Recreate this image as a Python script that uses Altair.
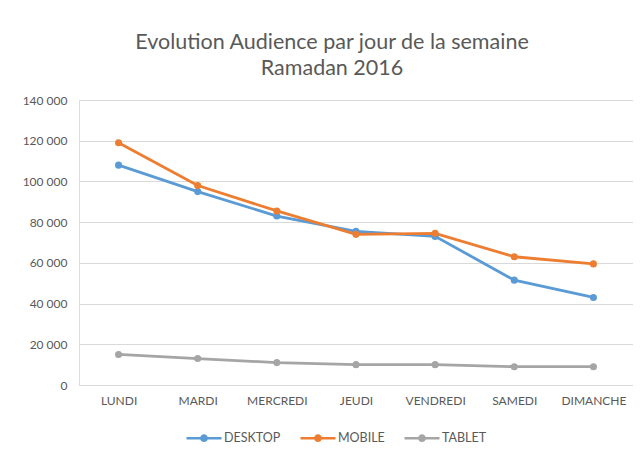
import altair as alt
import pandas as pd

days = ["LUNDI", "MARDI", "MERCREDI", "JEUDI", "VENDREDI", "SAMEDI", "DIMANCHE"]
desktop = [108000, 95000, 83000, 75500, 73000, 51500, 43000]
mobile = [119000, 98000, 85500, 74000, 74500, 63000, 59500]
tablet = [15000, 13000, 11000, 10000, 10000, 9000, 9000]
series = ["DESKTOP", "MOBILE", "TABLET"]
colors = ["#5B9BD5", "#ED7D31", "#A5A5A5"]

rows = []
for name, vals in zip(series, [desktop, mobile, tablet]):
    for d, v in zip(days, vals):
        rows.append({"jour": d, "serie": name, "valeur": v})
df = pd.DataFrame(rows)

font = "Lato"
txt = "#595959"

sym = "M-1,0H-0.15M0.15,0H1M-0.15,0a0.15,0.15 0 1,0 0.3,0a0.15,0.15 0 1,0 -0.3,0"

base = alt.Chart(df).encode(
    x=alt.X("jour:N", sort=days, title=None,
            scale=alt.Scale(type="point", padding=0.5),
            axis=alt.Axis(labelAngle=0, domain=False, ticks=False, labelPadding=10,
                          labelFont=font, labelFontSize=12, labelColor=txt, grid=False)),
    y=alt.Y("valeur:Q", title=None,
            scale=alt.Scale(domain=[0, 140000]),
            axis=alt.Axis(values=[0, 20000, 40000, 60000, 80000, 100000, 120000, 140000],
                          labelExpr="replace(format(datum.value, ','), ',', ' ')",
                          domain=False, ticks=False, labelPadding=12,
                          labelFont=font, labelFontSize=12, labelColor=txt,
                          gridColor="#D9D9D9", gridWidth=1)),
    color=alt.Color("serie:N", scale=alt.Scale(domain=series, range=colors), title=None,
                    legend=alt.Legend(orient="none", direction="horizontal",
                                      legendX=106, legendY=319,
                                      symbolType=sym, symbolSize=1225,
                                      symbolStrokeWidth=2.5, columnPadding=14,
                                      labelFont=font, labelFontSize=12.5, labelColor=txt,
                                      labelOffset=1)),
)

lines = base.mark_line(strokeWidth=2.8)
points = base.mark_point(filled=True, size=50, opacity=1)

chart = (lines + points).properties(
    width=554, height=285,
    title=alt.TitleParams(
        text=["Evolution Audience par jour de la semaine", "Ramadan 2016"],
        font=font, fontSize=21.5, fontWeight="normal", color=txt,
        anchor="middle", dx=-24, offset=15, lineHeight=26),
    padding={"left": 71, "top": 92, "right": 0, "bottom": 63},
    autosize=alt.AutoSizeParams(type="none"),
).configure_view(stroke=None).configure(background="white")

chart.save("out.html", embed_options={"renderer": "svg", "actions": False})
